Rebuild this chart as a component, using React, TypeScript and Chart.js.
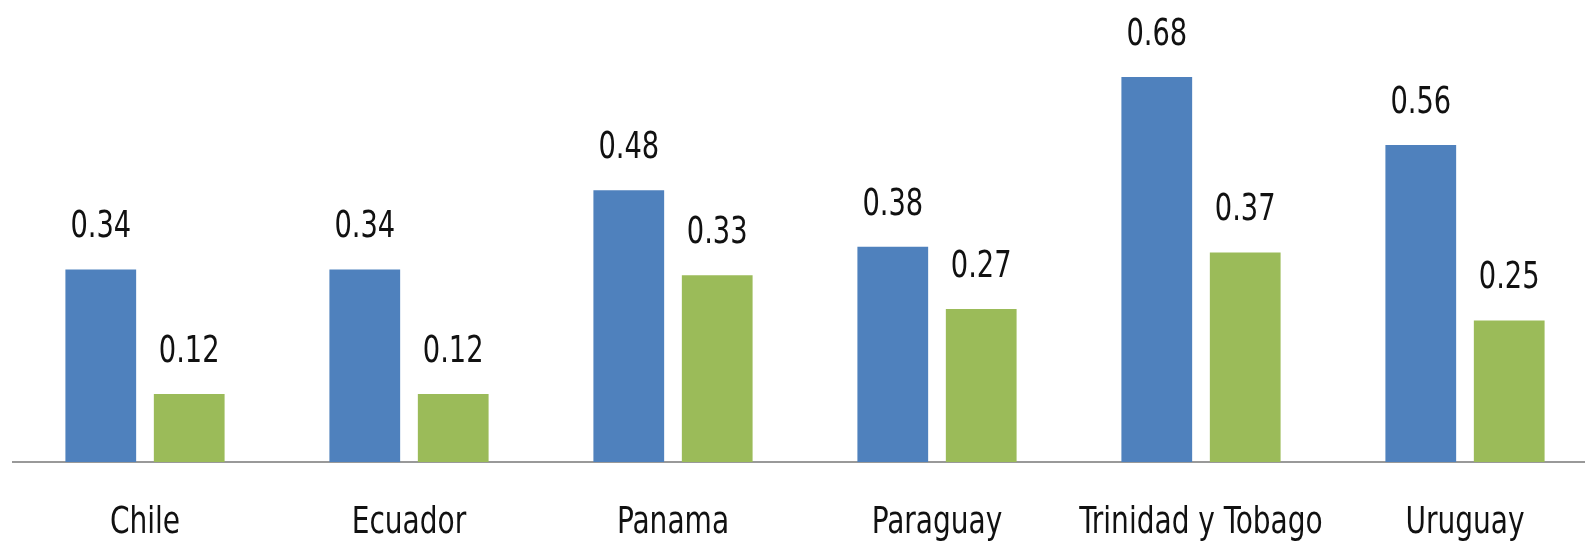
import React, { useEffect, useRef } from "react";
import { Chart, registerables } from "chart.js";

Chart.register(...registerables);

const categories = ["Chile", "Ecuador", "Panama", "Paraguay", "Trinidad y Tobago", "Uruguay"];
const seriesBlue = [0.34, 0.34, 0.48, 0.38, 0.68, 0.56];
const seriesGreen = [0.12, 0.12, 0.33, 0.27, 0.37, 0.25];

const FONT = '"DejaVu Sans Condensed", "DejaVu Sans", sans-serif';
const SQUEEZE = 0.82;

function drawSqueezed(ctx: CanvasRenderingContext2D, text: string, x: number, y: number) {
  ctx.save();
  ctx.translate(x, y);
  ctx.scale(SQUEEZE, 1);
  ctx.fillText(text, 0, 0);
  ctx.restore();
}

const valueLabels = {
  id: "valueLabels",
  afterDatasetsDraw(chart: any) {
    const ctx = chart.ctx;
    ctx.save();
    ctx.font = `37px ${FONT}`;
    ctx.fillStyle = "#111111";
    ctx.textAlign = "center";
    ctx.textBaseline = "alphabetic";
    chart.data.datasets.forEach((ds: any, di: number) => {
      const meta = chart.getDatasetMeta(di);
      meta.data.forEach((bar: any, i: number) => {
        drawSqueezed(ctx, Number(ds.data[i]).toFixed(2), bar.x, bar.y - 32);
      });
    });
    // category labels under the axis
    const xs = chart.scales.x;
    ctx.font = `38px ${FONT}`;
    (chart.data.labels as string[]).forEach((lab: string, i: number) => {
      drawSqueezed(ctx, lab, xs.getPixelForTick(i), chart.chartArea.bottom + 70.5);
    });
    ctx.restore();
  },
};

export default function App() {
  const ref = useRef<HTMLCanvasElement | null>(null);

  useEffect(() => {
    document.body.style.margin = "0";
    const canvas = ref.current;
    if (!canvas) return;
    const chart = new Chart(canvas, {
      type: "bar",
      data: {
        labels: categories,
        datasets: [
          {
            label: "Serie 1",
            data: seriesBlue,
            backgroundColor: "#4F81BD",
            categoryPercentage: 0.67,
            barPercentage: 0.8,
          },
          {
            label: "Serie 2",
            data: seriesGreen,
            backgroundColor: "#9BBB59",
            categoryPercentage: 0.67,
            barPercentage: 0.8,
          },
        ],
      },
      options: {
        animation: false,
        responsive: false,
        maintainAspectRatio: false,
        layout: { padding: { left: 13, right: 0, top: 9, bottom: 0 } },
        plugins: {
          legend: { display: false },
          tooltip: { enabled: false },
        },
        scales: {
          y: {
            display: false,
            min: 0,
            max: 0.8,
          },
          x: {
            grid: { display: false, drawTicks: false },
            border: { display: true, color: "#999999", width: 2 },
            ticks: { display: false },
            afterFit(scale: any) {
              scale.height = 79;
            },
          },
        },
      },
      plugins: [valueLabels],
    });
    return () => chart.destroy();
  }, []);

  return (
    <div style={{ width: 1585, height: 541, overflow: "hidden", position: "relative" }}>
      <canvas ref={ref} width={1597} height={541} style={{ display: "block", width: 1597, height: 541 }} />
    </div>
  );
}
